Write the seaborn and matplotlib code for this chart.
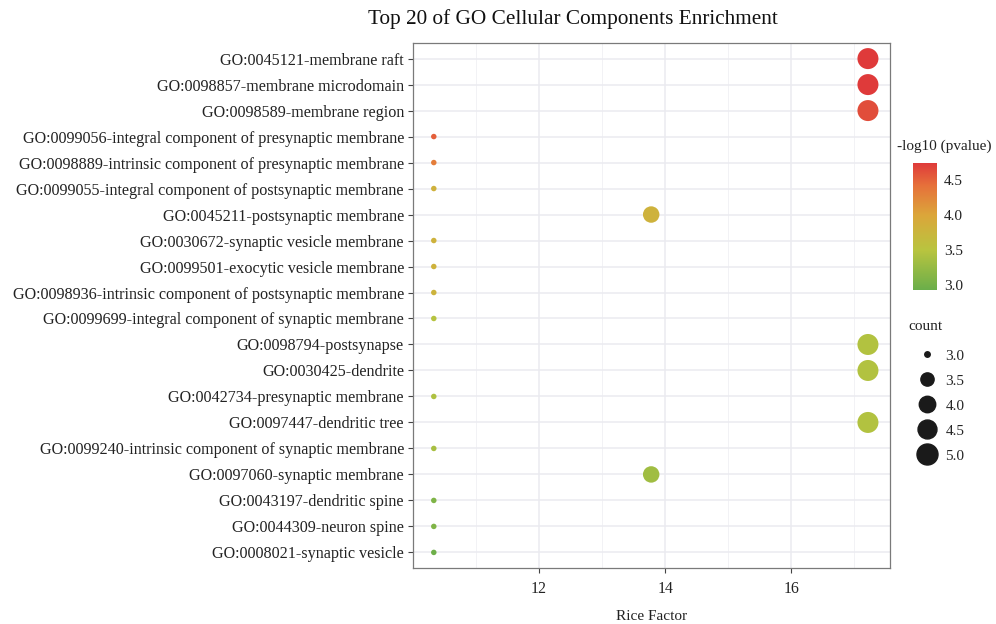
import numpy as np
import pandas as pd
import matplotlib
matplotlib.use("Agg")
import matplotlib.pyplot as plt
import seaborn as sns
from matplotlib.colors import LinearSegmentedColormap, Normalize
from matplotlib.cm import ScalarMappable
from matplotlib.lines import Line2D
from matplotlib.ticker import FixedLocator

terms = [
    "GO:0045121-membrane raft",
    "GO:0098857-membrane microdomain",
    "GO:0098589-membrane region",
    "GO:0099056-integral component of presynaptic membrane",
    "GO:0098889-intrinsic component of presynaptic membrane",
    "GO:0099055-integral component of postsynaptic membrane",
    "GO:0045211-postsynaptic membrane",
    "GO:0030672-synaptic vesicle membrane",
    "GO:0099501-exocytic vesicle membrane",
    "GO:0098936-intrinsic component of postsynaptic membrane",
    "GO:0099699-integral component of synaptic membrane",
    "GO:0098794-postsynapse",
    "GO:0030425-dendrite",
    "GO:0042734-presynaptic membrane",
    "GO:0097447-dendritic tree",
    "GO:0099240-intrinsic component of synaptic membrane",
    "GO:0097060-synaptic membrane",
    "GO:0043197-dendritic spine",
    "GO:0044309-neuron spine",
    "GO:0008021-synaptic vesicle",
]
rich_factor = [17.22, 17.22, 17.22, 10.33, 10.33, 10.33, 13.78, 10.33, 10.33, 10.33,
               10.33, 17.22, 17.22, 10.33, 17.22, 10.33, 13.78, 10.33, 10.33, 10.33]
counts = [5, 5, 5, 3, 3, 3, 4, 3, 3, 3, 3, 5, 5, 3, 5, 3, 4, 3, 3, 3]
neglog10p = [4.74, 4.74, 4.62, 4.52, 4.32, 3.82, 3.80, 3.80, 3.80, 3.78,
             3.48, 3.45, 3.45, 3.42, 3.45, 3.38, 3.32, 3.08, 3.08, 2.96]
x_major_ticks = [12, 14, 16]
x_minor_ticks = [11, 13, 15, 17]
size_legend_values = [3.0, 3.5, 4.0, 4.5, 5.0]
cbar_ticks = [3.0, 3.5, 4.0, 4.5]

df = pd.DataFrame({"term": terms, "rich": rich_factor, "count": counts, "p": neglog10p})

FONT = ["Liberation Serif", "DejaVu Serif"]
sns.set_theme(style="white")
plt.rcParams["font.family"] = FONT

TXT = "#222222"
DPI = 100
fig = plt.figure(figsize=(9.96, 6.24), dpi=DPI)
ax = fig.add_axes([413 / 996, 1 - 568 / 624, (890 - 413) / 996, (568 - 43) / 624])

vmin, vmax = 2.93, 4.74
cmap = LinearSegmentedColormap.from_list(
    "gyr",
    [(0.0, "#6aae4a"), (0.315, "#b9c43f"), (0.59, "#dba63a"), (0.82, "#e6713a"), (1.0, "#df3a3a")],
)
norm = Normalize(vmin, vmax)


def size_pt2(v):
    d_px = 5.5 + 15.5 * np.sqrt((v - 3) / 2)
    return (d_px * 72 / DPI) ** 2


size_map = {c: size_pt2(c) for c in sorted(set(counts))}

sns.scatterplot(
    data=df, x="rich", y="term", hue="p", palette=cmap, hue_norm=norm,
    size="count", sizes=size_map, legend=False, linewidth=0, ax=ax, zorder=3,
)
ax.set_xlim(10.0, 17.57)
ax.set_ylim(len(terms) - 0.4, -0.6)
ax.xaxis.set_major_locator(FixedLocator(x_major_ticks))
ax.xaxis.set_minor_locator(FixedLocator(x_minor_ticks))
ax.grid(which="major", color="#ebebf0", linewidth=1.1, zorder=0)
ax.grid(which="minor", axis="x", color="#f0f0f4", linewidth=0.6, zorder=0)
ax.set_axisbelow(True)

ax.set_xlabel("Rice Factor", fontsize=11, color=TXT, labelpad=9)
ax.set_ylabel("")
ax.tick_params(axis="y", which="major", labelsize=11.6, pad=3)
ax.tick_params(axis="x", which="major", labelsize=11.3, pad=6)
ax.tick_params(axis="both", which="major", length=3.5, width=0.8, color="#444444",
               labelcolor=TXT, bottom=True, left=True)
ax.tick_params(axis="x", which="minor", length=0)
for s in ax.spines.values():
    s.set_color("#7a7a7a")
    s.set_linewidth(0.9)

fig.text(573 / 996, 1 - 19 / 624, "Top 20 of GO Cellular Components Enrichment",
         ha="center", va="center", fontsize=15.3, color="#111111")

# colorbar
cax = fig.add_axes([913 / 996, 1 - 290 / 624, 24 / 996, 127 / 624])
cb = fig.colorbar(ScalarMappable(norm=norm, cmap=cmap), cax=cax, ticks=cbar_ticks)
cb.outline.set_visible(False)
cax.tick_params(left=True, right=True, labelleft=False, labelright=True, direction="in",
                length=4.5, width=0.8, color="white", labelsize=11, labelcolor=TXT, pad=5)
cax.set_yticklabels([f"{t:.1f}" for t in cbar_ticks])
fig.text(897 / 996, 1 - 146 / 624, "-log10 (pvalue)", ha="left", va="center",
         fontsize=11, color=TXT)

# size legend
fig.text(908 / 996, 1 - 326 / 624, "count", ha="left", va="center", fontsize=11, color=TXT)
handles = [Line2D([], [], marker="o", linestyle="", color="#1a1a1a",
                  markersize=np.sqrt(size_pt2(v))) for v in size_legend_values]
fig.legend(handles, [f"{v:.1f}" for v in size_legend_values], loc="upper left",
           bbox_to_anchor=(915 / 996, 1 - 349 / 624), frameon=False, fontsize=11,
           labelspacing=0.74, handletextpad=0.4, borderpad=0, handlelength=1.6,
           borderaxespad=0)

fig.savefig("out.png", dpi=DPI)
